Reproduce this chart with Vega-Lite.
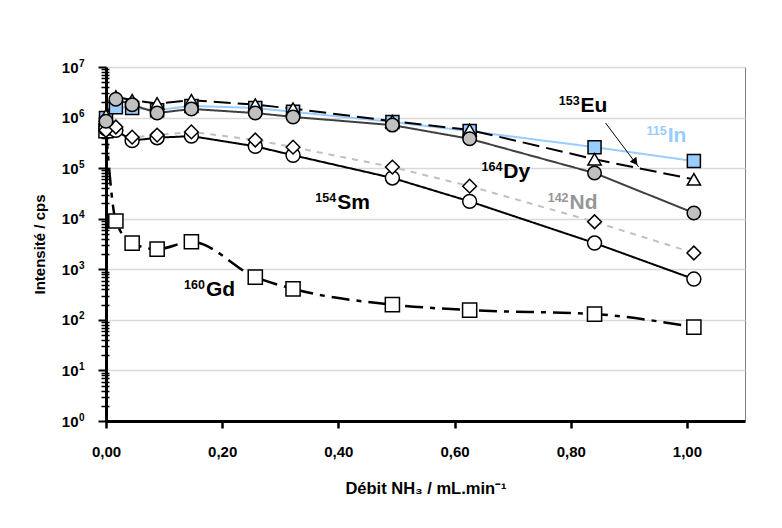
{
  "$schema": "https://vega.github.io/schema/vega-lite/v6.json",
  "width": 639,
  "height": 354,
  "autosize": {"type": "none"},
  "padding": {"left": 106, "top": 67, "right": 37, "bottom": 107},
  "background": "white",
  "config": {"font": "Liberation Sans", "view": {"stroke": "#7f7f7f", "strokeWidth": 1}},
  "datasets": {
    "pts": [
      {"s": "Gd", "x": 0, "y": 550000}, {"s": "Gd", "x": 0.017, "y": 9000}, {"s": "Gd", "x": 0.045, "y": 3300}, {"s": "Gd", "x": 0.088, "y": 2500}, {"s": "Gd", "x": 0.147, "y": 3500}, {"s": "Gd", "x": 0.257, "y": 700}, {"s": "Gd", "x": 0.322, "y": 410}, {"s": "Gd", "x": 0.493, "y": 200}, {"s": "Gd", "x": 0.626, "y": 156}, {"s": "Gd", "x": 0.841, "y": 130}, {"s": "Gd", "x": 1.012, "y": 72},
      {"s": "Sm", "x": 0, "y": 600000}, {"s": "Sm", "x": 0.017, "y": 560000}, {"s": "Sm", "x": 0.045, "y": 350000}, {"s": "Sm", "x": 0.088, "y": 400000}, {"s": "Sm", "x": 0.147, "y": 430000}, {"s": "Sm", "x": 0.257, "y": 270000}, {"s": "Sm", "x": 0.322, "y": 180000}, {"s": "Sm", "x": 0.493, "y": 64000}, {"s": "Sm", "x": 0.626, "y": 22000}, {"s": "Sm", "x": 0.841, "y": 3300}, {"s": "Sm", "x": 1.012, "y": 640},
      {"s": "Nd", "x": 0, "y": 560000}, {"s": "Nd", "x": 0.017, "y": 650000}, {"s": "Nd", "x": 0.045, "y": 410000}, {"s": "Nd", "x": 0.088, "y": 450000}, {"s": "Nd", "x": 0.147, "y": 520000}, {"s": "Nd", "x": 0.257, "y": 360000}, {"s": "Nd", "x": 0.322, "y": 260000}, {"s": "Nd", "x": 0.493, "y": 105000}, {"s": "Nd", "x": 0.626, "y": 44000}, {"s": "Nd", "x": 0.841, "y": 8700}, {"s": "Nd", "x": 1.012, "y": 2100},
      {"s": "In", "x": 0, "y": 980000}, {"s": "In", "x": 0.017, "y": 1600000}, {"s": "In", "x": 0.045, "y": 1550000}, {"s": "In", "x": 0.088, "y": 1400000}, {"s": "In", "x": 0.147, "y": 1700000}, {"s": "In", "x": 0.257, "y": 1550000}, {"s": "In", "x": 0.322, "y": 1300000}, {"s": "In", "x": 0.493, "y": 820000}, {"s": "In", "x": 0.626, "y": 540000}, {"s": "In", "x": 0.841, "y": 260000}, {"s": "In", "x": 1.012, "y": 138000},
      {"s": "Eu", "x": 0, "y": 1100000}, {"s": "Eu", "x": 0.017, "y": 2600000}, {"s": "Eu", "x": 0.045, "y": 2200000}, {"s": "Eu", "x": 0.088, "y": 1900000}, {"s": "Eu", "x": 0.147, "y": 2200000}, {"s": "Eu", "x": 0.257, "y": 1800000}, {"s": "Eu", "x": 0.322, "y": 1500000}, {"s": "Eu", "x": 0.493, "y": 850000}, {"s": "Eu", "x": 0.626, "y": 570000}, {"s": "Eu", "x": 0.841, "y": 150000}, {"s": "Eu", "x": 1.012, "y": 60000},
      {"s": "Dy", "x": 0, "y": 850000}, {"s": "Dy", "x": 0.017, "y": 2300000}, {"s": "Dy", "x": 0.045, "y": 1800000}, {"s": "Dy", "x": 0.088, "y": 1230000}, {"s": "Dy", "x": 0.147, "y": 1480000}, {"s": "Dy", "x": 0.257, "y": 1230000}, {"s": "Dy", "x": 0.322, "y": 1030000}, {"s": "Dy", "x": 0.493, "y": 710000}, {"s": "Dy", "x": 0.626, "y": 380000}, {"s": "Dy", "x": 0.841, "y": 80000}, {"s": "Dy", "x": 1.012, "y": 13000}
    ],
    "labs": [
      {"s": "Sm", "sym": "Sm", "num": "154", "x": 0.398, "y": 15600},
      {"s": "Gd", "sym": "Gd", "num": "160", "x": 0.172, "y": 290},
      {"s": "Dy", "sym": "Dy", "num": "164", "x": 0.684, "y": 64700},
      {"s": "Nd", "sym": "Nd", "num": "142", "x": 0.798, "y": 15600},
      {"s": "Eu", "sym": "Eu", "num": "153", "x": 0.817, "y": 1270000},
      {"s": "In", "sym": "In", "num": "115", "x": 0.967, "y": 324000}
    ],
    "arrow": [
      {"x": 0.86, "y": 780000, "x2": 0.917, "y2": 105000}
    ],
    "head": [
      {"x": 0.911, "y": 132000}
    ]
  },
  "layer": [
    {
      "data": {"name": "pts"},
      "transform": [{"filter": "datum.s != 'Gd'"}],
      "mark": {"type": "line", "strokeWidth": 2},
      "encoding": {
        "x": {
          "field": "x", "type": "quantitative",
          "scale": {"domain": [0, 1.1], "nice": false, "zero": false},
          "axis": {
            "values": [0, 0.2, 0.4, 0.6, 0.8, 1.0],
            "labelExpr": "replace(format(datum.value, '.2f'), '.', ',')",
            "labelFlush": false,
            "grid": false,
            "domainColor": "black", "domainWidth": 3,
            "tickColor": "black", "tickWidth": 2.5, "tickSize": 7,
            "labelFont": "Liberation Sans", "labelFontWeight": "bold", "labelFontSize": 15, "labelColor": "black", "labelPadding": 16,
            "title": "Débit NH₃ / mL.min⁻¹",
            "titleFont": "Liberation Sans", "titleFontWeight": "bold", "titleFontSize": 16.5, "titleColor": "black", "titlePadding": 21
          }
        },
        "y": {
          "field": "y", "type": "quantitative",
          "scale": {"type": "log", "domain": [1, 10000000], "nice": false},
          "axis": {
            "orient": "left",
            "values": [1, 10, 100, 1000, 10000, 100000, 1000000, 10000000],
            "labelExpr": "'10'",
            "grid": true, "gridColor": "#d9d9d9", "gridWidth": 1.5,
            "domainColor": "black", "domainWidth": 3,
            "tickColor": "black", "tickWidth": 2, "tickSize": 8,
            "labelFont": "Liberation Sans", "labelFontWeight": "bold", "labelFontSize": 15, "labelColor": "black", "labelPadding": 20,
            "title": "Intensité / cps",
            "titleFont": "Liberation Sans", "titleFontWeight": "bold", "titleFontSize": 15, "titleColor": "black", "titlePadding": 14
          }
        },
        "color": {
          "field": "s", "type": "nominal",
          "scale": {"domain": ["In", "Eu", "Dy", "Nd", "Sm"], "range": ["#99ccff", "black", "#404040", "#c0c0c0", "black"]},
          "legend": null
        },
        "strokeDash": {
          "field": "s", "type": "nominal",
          "scale": {"domain": ["In", "Eu", "Dy", "Nd", "Sm"], "range": [[1, 0], [17, 7], [1, 0], [6, 6], [1, 0]]},
          "legend": null
        }
      }
    },
    {
      "data": {"name": "pts"},
      "transform": [{"filter": "datum.s == 'Gd'"}],
      "mark": {"type": "line", "interpolate": "monotone", "color": "black", "strokeWidth": 2.5, "strokeDash": [18, 7, 5, 7]},
      "encoding": {
        "x": {"field": "x", "type": "quantitative"},
        "y": {
          "field": "y", "type": "quantitative",
          "axis": {
            "orient": "left",
            "values": [1, 10, 100, 1000, 10000, 100000, 1000000, 10000000],
            "labelExpr": "format(round(log(datum.value)/LN10), 'd')",
            "labelAlign": "left", "labelBaseline": "middle", "labelOffset": -4,
            "ticks": false, "tickSize": 0, "domain": false, "grid": false,
            "labelFont": "Liberation Sans", "labelFontWeight": "bold", "labelFontSize": 10, "labelColor": "black", "labelPadding": 27.5,
            "title": null
          }
        }
      }
    },
    {
      "data": {"name": "pts"},
      "mark": {"type": "point", "filled": true, "stroke": "black", "strokeWidth": 1.5, "opacity": 1},
      "encoding": {
        "x": {"field": "x", "type": "quantitative"},
        "y": {
          "field": "y", "type": "quantitative",
          "axis": {
            "orient": "left",
            "values": [2,3,4,5,6,7,8,9,20,30,40,50,60,70,80,90,200,300,400,500,600,700,800,900,2000,3000,4000,5000,6000,7000,8000,9000,20000,30000,40000,50000,60000,70000,80000,90000,200000,300000,400000,500000,600000,700000,800000,900000,2000000,3000000,4000000,5000000,6000000,7000000,8000000,9000000],
            "labels": false, "domain": false, "grid": false,
            "tickColor": "black", "tickWidth": 1.5, "tickSize": 5,
            "title": null
          }
        },
        "shape": {
          "field": "s", "type": "nominal",
          "scale": {"domain": ["In", "Eu", "Dy", "Nd", "Sm", "Gd"], "range": ["square", "triangle-up", "circle", "diamond", "circle", "square"]},
          "legend": null
        },
        "fill": {
          "field": "s", "type": "nominal",
          "scale": {"domain": ["In", "Eu", "Dy", "Nd", "Sm", "Gd"], "range": ["#99ccff", "white", "#c0c0c0", "white", "white", "white"]},
          "legend": null
        },
        "size": {
          "field": "s", "type": "nominal",
          "scale": {"domain": ["In", "Eu", "Dy", "Nd", "Sm", "Gd"], "range": [170, 200, 210, 150, 180, 170]},
          "legend": null
        }
      }
    },
    {
      "data": {"name": "arrow"},
      "mark": {"type": "rule", "color": "black", "strokeWidth": 1},
      "encoding": {
        "x": {"field": "x", "type": "quantitative"},
        "y": {"field": "y", "type": "quantitative", "axis": null},
        "x2": {"field": "x2"},
        "y2": {"field": "y2"}
      }
    },
    {
      "data": {"name": "head"},
      "mark": {"type": "point", "shape": "triangle-up", "filled": true, "color": "black", "opacity": 1, "size": 70, "angle": 143},
      "encoding": {
        "x": {"field": "x", "type": "quantitative"},
        "y": {"field": "y", "type": "quantitative", "axis": null}
      }
    },
    {
      "data": {"name": "labs"},
      "mark": {"type": "text", "align": "left", "baseline": "alphabetic", "font": "Liberation Sans", "fontWeight": "bold", "fontSize": 21},
      "encoding": {
        "x": {"field": "x", "type": "quantitative"},
        "y": {
          "field": "y", "type": "quantitative",
          "axis": {
            "orient": "left",
            "values": [2,3,4,5,6,7,8,9,20,30,40,50,60,70,80,90,200,300,400,500,600,700,800,900,2000,3000,4000,5000,6000,7000,8000,9000,20000,30000,40000,50000,60000,70000,80000,90000,200000,300000,400000,500000,600000,700000,800000,900000,2000000,3000000,4000000,5000000,6000000,7000000,8000000,9000000],
            "labels": false, "domain": false, "grid": false,
            "tickColor": "black", "tickWidth": 1.5, "tickSize": -3,
            "title": null
          }
        },
        "text": {"field": "sym"},
        "color": {
          "condition": [
            {"test": "datum.s == 'In'", "value": "#99ccff"},
            {"test": "datum.s == 'Nd'", "value": "#969696"}
          ],
          "value": "black"
        }
      }
    },
    {
      "data": {"name": "labs"},
      "mark": {"type": "text", "align": "right", "baseline": "alphabetic", "dy": -7, "dx": -1, "font": "Liberation Sans", "fontWeight": "bold", "fontSize": 12.5},
      "encoding": {
        "x": {"field": "x", "type": "quantitative"},
        "y": {"field": "y", "type": "quantitative", "axis": null},
        "text": {"field": "num"},
        "color": {
          "condition": [
            {"test": "datum.s == 'In'", "value": "#99ccff"},
            {"test": "datum.s == 'Nd'", "value": "#969696"}
          ],
          "value": "black"
        }
      }
    }
  ],
  "resolve": {"axis": {"y": "independent"}}
}
